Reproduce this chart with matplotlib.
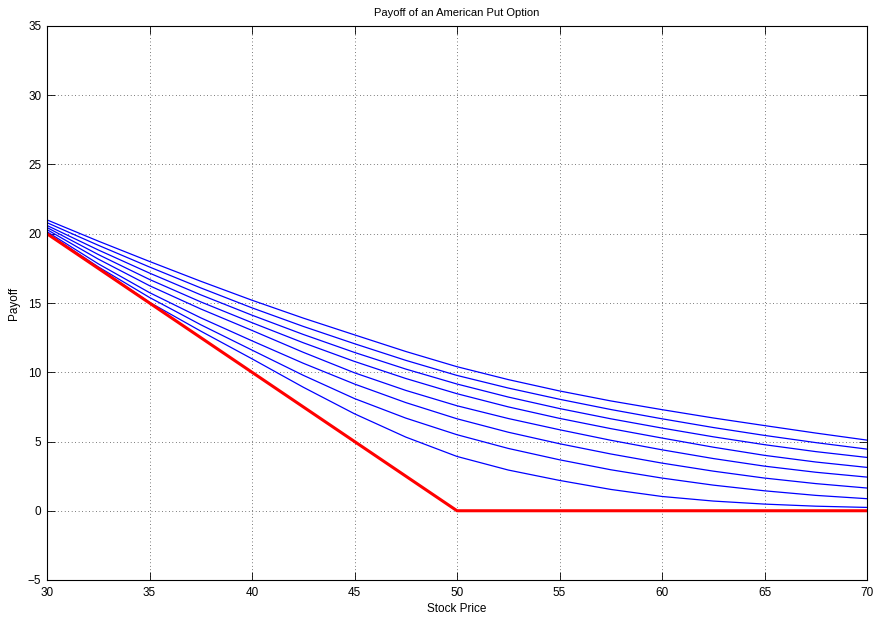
import matplotlib
matplotlib.use("Agg")
import matplotlib.pyplot as plt

plt.rcParams['font.family'] = ['Liberation Sans', 'DejaVu Sans']

stock_price = [30, 32.5, 35, 37.5, 40, 42.5, 45, 47.5, 50,
               52.5, 55, 57.5, 60, 62.5, 65, 67.5, 70]

curve1 = [21.00, 19.47, 18.00, 16.57, 15.20, 13.91, 12.70, 11.50, 10.40,
          9.47, 8.65, 7.93, 7.30, 6.70, 6.15, 5.61, 5.10]
curve2 = [20.80, 19.17, 17.60, 16.09, 14.65, 13.31, 12.06, 10.86, 9.77,
          8.86, 8.05, 7.31, 6.64, 6.01, 5.44, 4.92, 4.45]
curve3 = [20.60, 18.83, 17.16, 15.59, 14.12, 12.73, 11.43, 10.23, 9.15,
          8.21, 7.38, 6.64, 5.97, 5.34, 4.77, 4.27, 3.85]
curve4 = [20.45, 18.50, 16.70, 15.08, 13.58, 12.13, 10.78, 9.55, 8.45,
          7.50, 6.67, 5.93, 5.25, 4.59, 4.00, 3.52, 3.13]
curve5 = [20.30, 18.17, 16.25, 14.57, 13.02, 11.44, 9.96, 8.69, 7.58,
          6.66, 5.85, 5.09, 4.40, 3.77, 3.22, 2.78, 2.43]
curve6 = [20.15, 17.83, 15.75, 13.93, 12.27, 10.65, 9.15, 7.81, 6.64,
          5.67, 4.84, 4.10, 3.44, 2.86, 2.36, 1.96, 1.64]
curve7 = [20.05, 17.61, 15.40, 13.43, 11.60, 9.78, 8.10, 6.69, 5.49,
          4.50, 3.68, 2.96, 2.36, 1.85, 1.44, 1.11, 0.87]
curve8 = [20.00, 17.52, 15.05, 12.97, 10.97, 8.92, 7.00, 5.32, 3.92,
          2.94, 2.19, 1.54, 1.03, 0.70, 0.48, 0.33, 0.24]
curves = [curve1, curve2, curve3, curve4, curve5, curve6, curve7, curve8]

payoff_x = [30, 50, 70]
payoff_y = [20, 0, 0]

xticks = [30, 35, 40, 45, 50, 55, 60, 65, 70]
yticks = [-5, 0, 5, 10, 15, 20, 25, 30, 35]

fig = plt.figure(figsize=(8.78, 6.21), dpi=100)
ax = fig.add_axes([47/878, 1-580/621, (867-47)/878, (580-26)/621])

for c in curves:
    ax.plot(stock_price, c, color=(0, 0, 1), linewidth=0.9)
ax.plot(payoff_x, payoff_y, color=(1, 0, 0), linewidth=2.2)

ax.set_xlim(30, 70)
ax.set_ylim(-5, 35)
ax.set_xticks(xticks)
ax.set_yticks(yticks)
ax.tick_params(direction='in', top=True, right=True, labelsize=8.5, length=6, width=0.6)
ax.tick_params(axis='x', pad=5)
ax.tick_params(axis='y', pad=4)
ax.grid(True, color='black', linestyle=(0, (1, 4)), linewidth=0.5)
for s in ax.spines.values():
    s.set_linewidth(0.8)

ax.set_title('Payoff of an American Put Option', fontsize=8, pad=7)
ax.set_xlabel('Stock Price', fontsize=8.5, labelpad=3)
ax.set_ylabel('Payoff', fontsize=8.5, labelpad=6)

fig.savefig('out.png', dpi=100)
